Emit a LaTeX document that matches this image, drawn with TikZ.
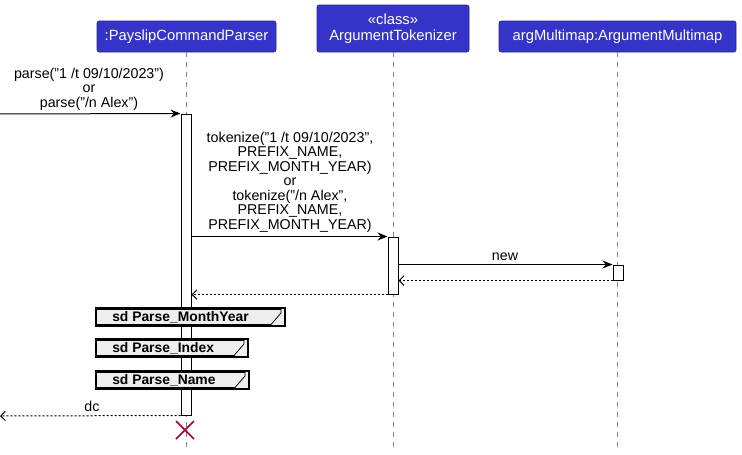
\documentclass[tikz,border=0pt]{standalone}
\usepackage{fontspec}
\setmainfont{Liberation Sans}
\usetikzlibrary{positioning,calc,fit,arrows.meta}
\definecolor{partblue}{HTML}{3434C8}
\definecolor{killred}{HTML}{A80036}
\definecolor{reffill}{HTML}{EEEEEE}

\begin{document}
\begin{tikzpicture}
		[x=0.75pt, y=-0.75pt,
		part/.style={draw=partblue!70!black, fill=partblue, text=white, rounded corners=1.5pt,
			font=\fontsize{11.1}{12.4}\selectfont, align=center, inner sep=0pt},
		act/.style={draw, fill=white, line width=0.75pt, inner sep=0pt},
		life/.style={gray, line width=0.5pt, dash pattern=on 3.75pt off 3.75pt},
		msg/.style={line width=0.75pt, -{Stealth[length=7.5pt, width=6pt, inset=2.5pt]}},
		ret/.style={line width=0.75pt, dash pattern=on 1.5pt off 1.5pt, -{Straight Barb[length=3.5pt, width=7pt]}},
		lbl/.style={font=\fontsize{10.7}{10.9}\selectfont, align=center, inner sep=1pt},
		sdref/.style={font=\fontsize{10.4}{12}\selectfont\bfseries, anchor=west, inner sep=0pt}]
		\useasboundingbox (0,0) rectangle (742,454);

		% participants
		\node[part, minimum width=134.25pt, minimum height=23.25pt] (pcp) at (186.5,36.5) {:PayslipCommandParser};
		\node[part, minimum width=114pt, minimum height=35.25pt] (tok) at (393,28.5) {«class»\\ArgumentTokenizer};
		\node[part, minimum width=177.75pt, minimum height=23.25pt] (amm) at (617.5,36.5) {argMultimap:ArgumentMultimap};

		% lifelines
		\coordinate (bot) at (0,447);
		\draw[life] (pcp.south) -- (pcp.south |- bot);
		\draw[life] (tok.south) -- (tok.south |- bot);
		\draw[life] (amm.south) -- (amm.south |- bot);

		% activations
		\node[act, fit={(181,114) (191,415)}] (a1) {};
		\node[act, fit={(388,237) (398,294)}] (a2) {};
		\node[act, fit={(613,265) (623,280)}] (a3) {};

		\coordinate (in) at (-3,114);
		\coordinate (out) at (0,416);

		% messages
		\draw[msg] (in) -- (a1.north west);
		\node[lbl, above] at (89,112) {parse("1 /t 09/10/2023")\\or\\parse("/n Alex")};
		\draw[msg] (a1.east |- a2.north) -- (a2.north west);
		\node[lbl, above] at (290,234) {tokenize("1 /t 09/10/2023",\\PREFIX\_NAME,\\PREFIX\_MONTH\_YEAR)\\or\\tokenize("/n Alex",\\PREFIX\_NAME,\\PREFIX\_MONTH\_YEAR)};
		\draw[msg] (a2.east |- a3.north) -- (a3.north west);
		\node[lbl, above] at (505,262) {new};
		\draw[ret] (a3.south west) -- (a2.east |- a3.south);
		\draw[ret] (a2.south west) -- (a1.east |- a2.south);

		% reference frames
		\foreach \y/\w/\t in {308/285/Parse\_MonthYear, 339/248/Parse\_Index, 371/249/Parse\_Name}{
			\draw[fill=reffill, line width=0.9pt] (96,\y) rectangle (\w,\y+18);
			\draw[line width=0.6pt] (96,\y+1.5) -- (\w-4,\y+1.5) -- (\w-4,\y+5) -- (\w-14,\y+16.5) -- (96,\y+16.5);
			\node[sdref] at (112,\y+9.5) {sd \t};
		}

		\draw[ret] (a1.south west) -- (out);
		\node[lbl, above] at (92,413) {dc};

		% destroy
		\draw[killred, line width=1.1pt] (176,421) -- (194,439) (194,421) -- (176,439);
	\end{tikzpicture}
\end{document}
